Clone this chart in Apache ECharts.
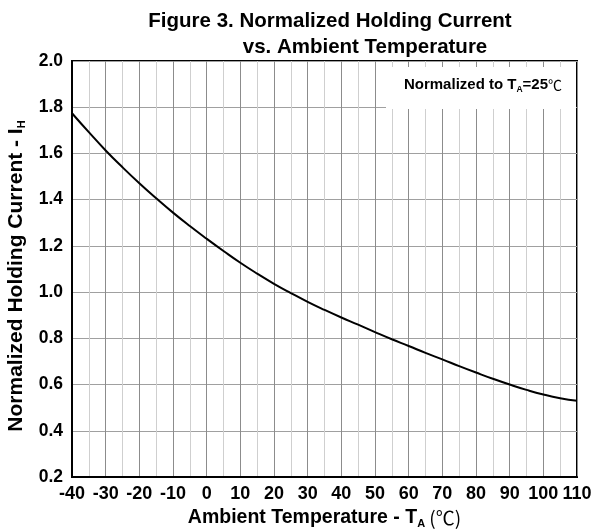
<!DOCTYPE html>
<html>
<head>
	<meta charset="utf-8">
	<title>Holding Current vs Temperature</title>
	<style>
		html, body { margin: 0; padding: 0; background: #fff; }
		#chart { width: 592px; height: 531px; }
	</style>
</head>
<body>
	<div id="chart"></div>
	<script src="https://cdn.jsdelivr.net/npm/echarts@6/dist/echarts.min.js"></script>
	<script type="text/javascript">
		// temperature (degC) and normalized holding current
		var temps = [-40, -35, -30, -25, -20, -15, -10, -5, 0, 5, 10, 15, 20, 25, 30, 35,
			40, 45, 50, 55, 60, 65, 70, 75, 80, 85, 90, 95, 100, 105, 110];
		var current = [1.774, 1.692, 1.613, 1.540, 1.471, 1.406, 1.344, 1.286, 1.231, 1.178, 1.127, 1.080, 1.036, 0.996, 0.958, 0.923,
			0.890, 0.859, 0.827, 0.796, 0.767, 0.737, 0.709, 0.680, 0.652, 0.625, 0.600, 0.577, 0.557, 0.541, 0.530];

		var titleLines = ['Figure 3. Normalized Holding Current', 'vs. Ambient Temperature'];

		var FONT = '"Liberation Sans", Arial, sans-serif';
		var CJK = '"Noto Sans CJK SC", sans-serif';

		var chart = echarts.init(document.getElementById('chart'));

		var points = [];
		for (var i = 0; i < temps.length; i++) {
			points.push([temps[i], current[i]]);
		}

		var option = {
			animation: false,
			title: [{
				text: titleLines[0],
				left: 325,
				top: 6,
				textAlign: 'center',
				textStyle: { fontFamily: FONT, fontSize: 20.5, fontWeight: 'bold', color: '#000' }
			}, {
				text: titleLines[1],
				left: 360,
				top: 32,
				textAlign: 'center',
				textStyle: { fontFamily: FONT, fontSize: 20.5, fontWeight: 'bold', color: '#000' }
			}],
			grid: {
				left: 72,
				right: 15,
				top: 61,
				bottom: 54,
				containLabel: false,
				outerBoundsMode: 'none',
				show: true,
				borderColor: '#000',
				borderWidth: 2
			},
			xAxis: {
				type: 'value',
				min: -40,
				max: 110,
				interval: 10,
				name: '{n|Ambient Temperature - T}{s|A}{c| (℃)}',
				nameLocation: 'middle',
				nameGap: 27,
				nameTextStyle: {
					rich: {
						n: { fontFamily: FONT, fontSize: 19.5, fontWeight: 'bold', color: '#000', lineHeight: 24 },
						s: { fontFamily: FONT, fontSize: 11, fontWeight: 'bold', color: '#000', lineHeight: 12, verticalAlign: 'bottom' },
						c: { fontFamily: CJK, fontSize: 19, color: '#000', lineHeight: 24 }
					}
				},
				axisLine: { onZero: false, lineStyle: { color: '#000', width: 2 } },
				axisTick: { show: false },
				axisLabel: {
					margin: 8,
					hideOverlap: false,
					fontFamily: FONT, fontSize: 18, fontWeight: 'bold', color: '#000'
				},
				splitLine: { show: true, lineStyle: { color: '#8c8c8c', width: 1 } },
				minorTick: { show: false, splitNumber: 2 },
				minorSplitLine: { show: true, lineStyle: { color: '#cfcfcf', width: 1 } }
			},
			yAxis: {
				type: 'value',
				min: 0.2,
				max: 2.0,
				interval: 0.2,
				name: '{n|Normalized Holding Current - I}{s|H}',
				nameLocation: 'middle',
				nameGap: 41,
				nameTextStyle: {
					padding: [0, 14, 0, 0],
					rich: {
						n: { fontFamily: FONT, fontSize: 21, fontWeight: 'bold', color: '#000', lineHeight: 24 },
						s: { fontFamily: FONT, fontSize: 11, fontWeight: 'bold', color: '#000', lineHeight: 12, verticalAlign: 'bottom' }
					}
				},
				axisLine: { onZero: false, lineStyle: { color: '#000', width: 2 } },
				axisTick: { show: false },
				axisLabel: {
					margin: 9,
					fontFamily: FONT, fontSize: 17.5, fontWeight: 'bold', color: '#000',
					formatter: function (v) { return v.toFixed(1); }
				},
				splitLine: { show: true, lineStyle: { color: '#a0a0a0', width: 1 } }
			},
			graphic: [{
				type: 'rect',
				z: 1,
				shape: { x: 386, y: 67, width: 190, height: 42 },
				style: { fill: '#fff' }
			}, {
				type: 'text',
				z: 2,
				x: 483,
				y: 85,
				style: {
					text: '{n|Normalized to T}{s|A}{n|=25}{c|℃}',
					align: 'center',
					verticalAlign: 'middle',
					rich: {
						n: { fontFamily: FONT, fontSize: 15, fontWeight: 'bold', fill: '#000', lineHeight: 18 },
						s: { fontFamily: FONT, fontSize: 8.5, fontWeight: 'bold', fill: '#000', lineHeight: 9, verticalAlign: 'bottom' },
						c: { fontFamily: CJK, fontSize: 14, fill: '#000', lineHeight: 18 }
					}
				}
			}],
			series: [{
				type: 'line',
				data: points,
				smooth: true,
				showSymbol: false,
				lineStyle: { color: '#000', width: 2 },
				z: 3
			}]
		};

		chart.setOption(option);
	</script>
</body>
</html>
